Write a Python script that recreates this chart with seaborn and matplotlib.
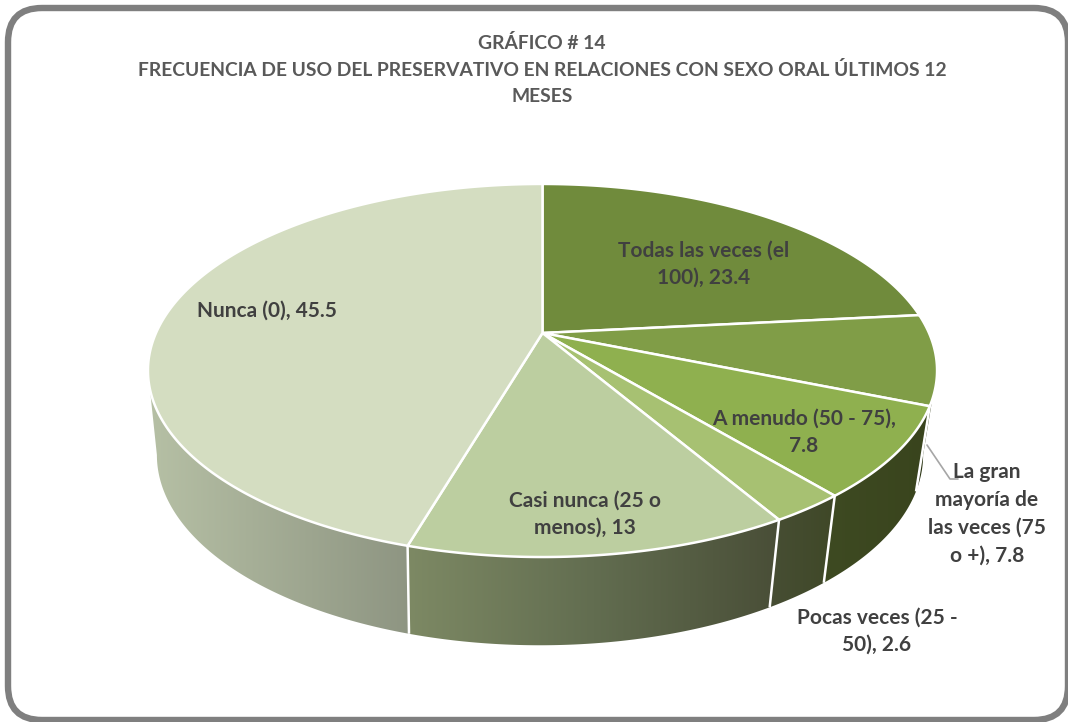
import numpy as np
import seaborn as sns
import matplotlib.pyplot as plt
from matplotlib.patches import FancyBboxPatch, Polygon

# data, clockwise from 12 o'clock
categories = ['Todas las veces (el\n100), 23.4', 'La gran\nmayoría de\nlas veces (75\no +), 7.8',
              'A menudo (50 - 75),\n7.8', 'Pocas veces (25 -\n50), 2.6',
              'Casi nunca (25 o\nmenos), 13', 'Nunca (0), 45.5']
values = [23.4, 7.8, 7.8, 2.6, 13, 45.5]
top_colors = ['#708b3c', '#809d47', '#8fb04f', '#a7c172', '#bccea0', '#d4ddc1']
side_colors = [['#4f6028', '#4f6028'], ['#2a3413', '#2e3816'], ['#3e4a22', '#39441d'],
               ['#474e34', '#3f4827'], ['#7d8964', '#626d50', '#494e37'], ['#b6c0a5', '#8e9582']]
label_xy = [(704, 264), (987, 514), (804, 432), (877, 631), (585, 514), (267, 311)]
title = 'GRÁFICO # 14\nFRECUENCIA DE USO DEL PRESERVATIVO EN RELACIONES CON SEXO ORAL ÚLTIMOS 12\nMESES'

# pie projection in pixels
cx, cy = 542.5, 333
a, b, k = 386.5, 179, 0.201


def top_pts(theta):
    u, v = np.sin(theta), np.cos(theta)
    w = 1 + k * v
    return cx + a * u / w, cy - b * v / w


def bottom_pts(theta):
    x, y = top_pts(theta)
    return 540 + (x - cx) * 0.971, 455 + (y - 370.5) * 1.02


sns.set_theme(style='white')
plt.rcParams['font.family'] = ['Lato', 'DejaVu Sans']

fig, ax = plt.subplots(figsize=(10.68, 7.22), dpi=100)
fig.subplots_adjust(0, 0, 1, 1)
ax.axis('off')

edges = np.radians(np.cumsum([0] + values) / sum(values) * 360)
# where the top ellipse turns away, the side stops there
sil_r = np.arccos(-k)
sil_l = 2 * np.pi - sil_r

# sides first
for i in range(len(values)):
    lo, hi = max(edges[i], sil_r), min(edges[i + 1], sil_l)
    if hi <= lo:
        continue
    t = np.linspace(lo, hi, 120)
    x1, y1 = top_pts(t)
    x2, y2 = bottom_pts(t)
    px = np.r_[x1, x2[::-1]]
    py = np.r_[y1, y2[::-1]]
    poly = Polygon(np.c_[px, py], closed=True, fc='none', ec='none', transform=ax.transData)
    ax.add_patch(poly)
    cmap = sns.blend_palette(side_colors[i], as_cmap=True)
    im = ax.imshow(np.linspace(0, 1, 256)[None, :], cmap=cmap, aspect='auto',
                   extent=(px.min(), px.max(), 680, 180), zorder=1)
    im.set_clip_path(poly)

# seams on the front of the pie
for e in edges:
    if sil_r < e < sil_l:
        x1, y1 = top_pts(e)
        x2, y2 = bottom_pts(e)
        ax.plot([x1, x2], [y1, y2], color='white', lw=1.8, zorder=2, solid_capstyle='butt')

# top face
pal = sns.color_palette(top_colors)
for i in range(len(values)):
    t = np.linspace(edges[i], edges[i + 1], 200)
    x, y = top_pts(t)
    ax.fill(np.r_[cx, x], np.r_[cy, y], fc=pal[i], ec='white', lw=1.8, zorder=3, joinstyle='round')

# leader line
ax.plot([927, 950, 958], [445, 479, 479], color='#a6a6a6', lw=1.2, zorder=4)

for lab, (lx, ly) in zip(categories, label_xy):
    ax.text(lx, ly, lab, ha='center', va='center', fontsize=15, fontweight='bold',
            color='#404040', linespacing=1.48, zorder=5)

ax.text(542, 69.5, title, ha='center', va='center', fontsize=13.9, fontweight='bold',
        color='#595959', linespacing=1.62, zorder=5)

# rounded frame
ax.add_patch(FancyBboxPatch((38, 38), 1000, 652, boxstyle='round,pad=30,rounding_size=34',
                            fc='none', ec='#7f7f7f', lw=4.6, zorder=6))

ax.set_xlim(0, 1068)
ax.set_ylim(722, 0)
fig.savefig('out.png', dpi=100, facecolor='white')
